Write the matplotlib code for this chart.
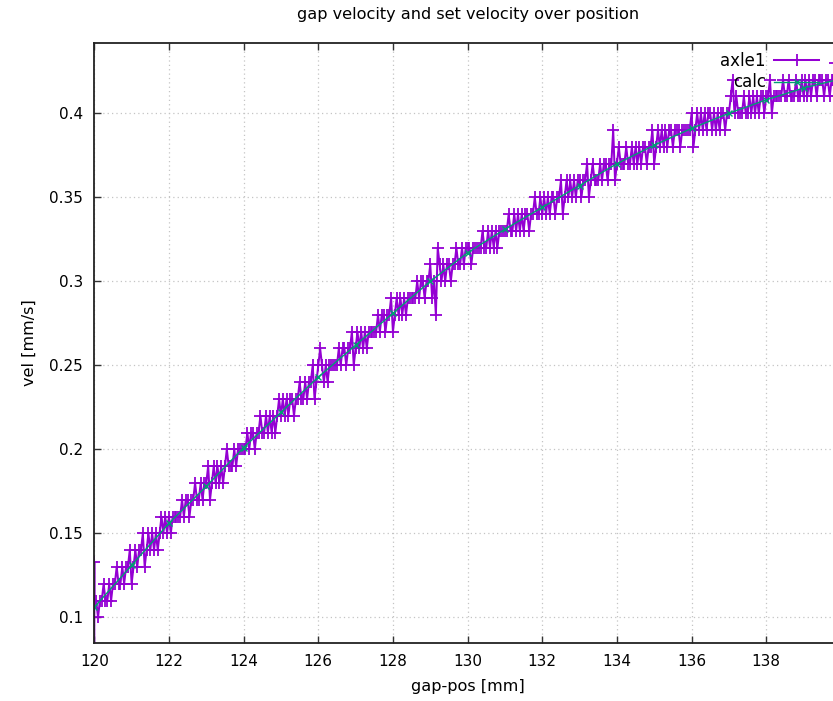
import matplotlib
matplotlib.use("Agg")
import matplotlib.pyplot as plt
import numpy as np


# measured axle1 velocity, one reading every 0.05 mm from 120 mm, in 0.01 mm/s
pos_start = 120.0
pos_step = 0.05
start_spike = [0.08, 0.133]  # two readings at the very first position
axle1_centi = [
    11, 11, 10, 11, 11, 12, 11, 11, 12, 11, 12, 12, 13, 12, 12, 13, 12, 13, 13, 14,  # 120
    12, 13, 14, 13, 14, 14, 15, 13, 14, 15, 14, 15, 14, 15, 14, 15, 16, 15, 16, 15,  # 121
    16, 15, 16, 16, 16, 16, 16, 17, 16, 17, 17, 16, 17, 17, 18, 17, 17, 18, 17, 18,  # 122
    18, 19, 17, 18, 19, 18, 19, 18, 19, 18, 19, 20, 19, 19, 19, 20, 19, 20, 20, 20,  # 123
    20, 20, 21, 20, 21, 21, 20, 21, 21, 22, 21, 21, 22, 21, 22, 21, 22, 21, 22, 23,  # 124
    22, 23, 22, 23, 22, 23, 23, 22, 23, 23, 24, 23, 23, 24, 23, 24, 24, 25, 23, 24,  # 125
    25, 26, 25, 24, 25, 24, 25, 25, 25, 25, 25, 26, 25, 26, 26, 25, 26, 26, 27, 25,  # 126
    26, 27, 26, 27, 26, 27, 26, 27, 27, 27, 27, 27, 28, 27, 28, 28, 27, 28, 28, 29,  # 127
    27, 28, 29, 28, 29, 28, 29, 28, 29, 29, 29, 29, 29, 30, 29, 30, 30, 29, 30, 30,  # 128
    31, 29, 30, 28, 32, 31, 30, 31, 30, 31, 31, 30, 31, 31, 32, 31, 31, 32, 31, 32,  # 129
    32, 32, 31, 32, 32, 32, 32, 32, 33, 32, 32, 33, 32, 33, 32, 33, 32, 33, 33, 33,  # 130
    33, 33, 34, 33, 33, 34, 33, 34, 33, 34, 33, 34, 34, 33, 34, 34, 35, 34, 34, 35,  # 131
    34, 35, 34, 35, 34, 35, 35, 34, 35, 35, 36, 34, 35, 36, 35, 36, 35, 36, 35, 36,  # 132
    36, 35, 36, 36, 37, 35, 36, 37, 36, 36, 36, 37, 36, 37, 37, 36, 37, 37, 39, 36,  # 133
    37, 38, 37, 37, 37, 38, 37, 37, 38, 37, 38, 37, 38, 37, 38, 38, 37, 38, 38, 39,  # 134
    37, 38, 39, 38, 39, 38, 39, 38, 39, 39, 38, 39, 39, 39, 38, 39, 39, 39, 39, 39,  # 135
    40, 38, 39, 40, 39, 40, 39, 40, 39, 40, 40, 39, 40, 39, 40, 39, 40, 40, 39, 40,  # 136
    40, 41, 42, 40, 41, 40, 40, 40, 41, 40, 40, 41, 40, 41, 40, 41, 40, 41, 41, 40,  # 137
    41, 41, 42, 40, 41, 41, 41, 41, 41, 42, 41, 41, 42, 41, 41, 41, 42, 41, 41, 42,  # 138
    41, 42, 41, 42, 41, 42, 42, 41, 42, 42, 42, 41, 42, 42, 41, 42, 42, 43, 41, 42,  # 139
]

# set velocity curve
calc_pos = [120, 121, 122, 123, 124, 125, 126, 127, 128, 129, 130,
            131, 132, 133, 134, 135, 136, 137, 138, 139, 140]
calc_vel = [0.106, 0.131, 0.156, 0.178, 0.201, 0.222, 0.243, 0.262, 0.281, 0.300, 0.317,
            0.331, 0.344, 0.357, 0.370, 0.381, 0.391, 0.400, 0.408, 0.415, 0.4205]

xticks = [120, 122, 124, 126, 128, 130, 132, 134, 136, 138]
yticks = [0.1, 0.15, 0.2, 0.25, 0.3, 0.35, 0.4]
ytick_labels = ["0.1", "0.15", "0.2", "0.25", "0.3", "0.35", "0.4"]


def main():
    W, H = 833, 701
    fig = plt.figure(figsize=(W / 100, H / 100), dpi=100)

    # axes box in pixels (right side runs off the image like the original)
    x0, x1, ytop, ybot = 94.3, 840.9, 42.7, 642.7
    ax = fig.add_axes([x0 / W, (H - ybot) / H, (x1 - x0) / W, (ybot - ytop) / H])

    n = len(axle1_centi)
    pos = np.concatenate([[pos_start] * len(start_spike), pos_start + pos_step * np.arange(n)])
    vel = np.concatenate([start_spike, np.array(axle1_centi) / 100.0])

    ax.plot(pos, vel, color="#9400d3", lw=1.45, marker="+", ms=8, mew=1.3, label="axle1")
    ax.plot(calc_pos, calc_vel, color="#009e73", lw=1.0, marker="x", ms=5, mew=1.0, label="calc")

    ax.set_xlim(120, 140)
    ax.set_ylim(0.0849, 0.442)
    ax.set_xticks(xticks)
    ax.set_yticks(yticks)
    ax.set_yticklabels(ytick_labels)

    ax.grid(True, color="#c4c4c4", lw=0.9, linestyle=(0, (1, 2.5)))
    ax.tick_params(direction="in", length=5, width=1, top=True, right=True,
                   labelsize=11, pad=8, color="#333333")
    for s in ax.spines.values():
        s.set_linewidth(1.3)
        s.set_color("#222222")

    ax.set_xlabel("gap-pos [mm]", fontsize=11.6, labelpad=7)
    ax.set_ylabel("vel [mm/s]", fontsize=11.6, labelpad=9)
    fig.text((x0 + x1) / 2 / W, 1 - 15 / H, "gap velocity and set velocity over position",
             ha="center", va="center", fontsize=11.6)

    ax.legend(loc="upper right", bbox_to_anchor=(819 / W, 1 - 52 / H),
              bbox_transform=fig.transFigure, frameon=False, markerfirst=False,
              fontsize=12, handlelength=2.7, handletextpad=0.5, borderpad=0,
              borderaxespad=0, labelspacing=0.2, numpoints=1)

    fig.savefig("out.png", dpi=100)


if __name__ == "__main__":
    main()
